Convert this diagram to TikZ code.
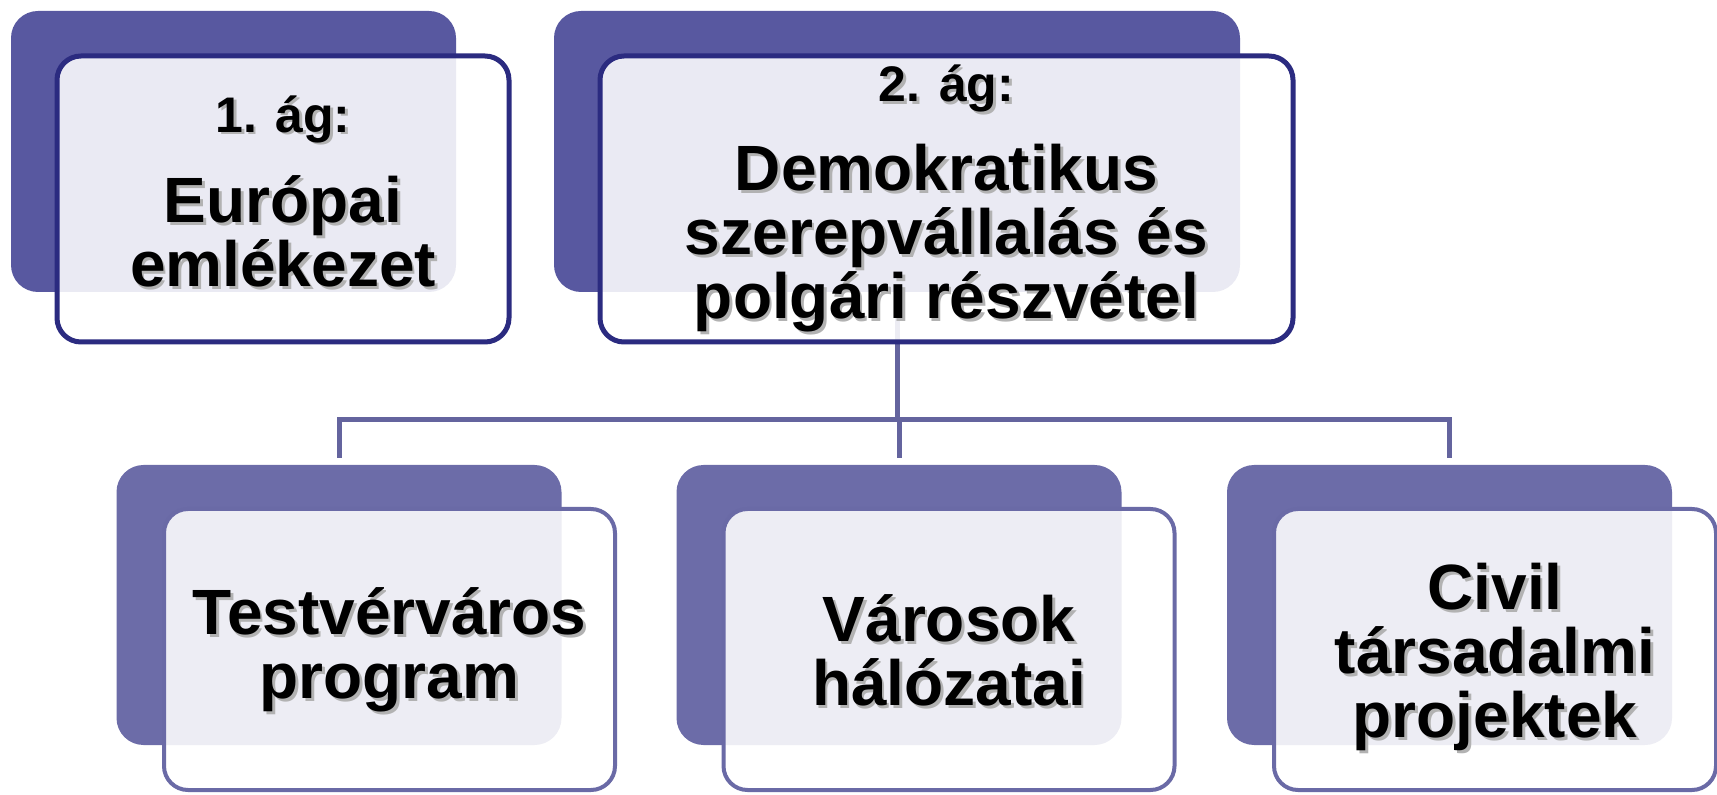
\documentclass[tikz,border=0pt]{standalone}
\usepackage{fontspec}
\setmainfont{Liberation Sans}
\definecolor{backtop}{HTML}{5858A0}
\definecolor{backbot}{HTML}{6C6CA8}
\definecolor{linetop}{HTML}{2B2B80}
\definecolor{linebot}{HTML}{6A6AA6}
\definecolor{linkcol}{HTML}{64649E}
\newcommand\shtxt[1]{\makebox[0pt][l]{\hspace{1.4pt}\raisebox{-1.4pt}{\color{black!30}#1}}{#1}}
\newcommand\subfont{\fontsize{25}{25}\selectfont}

\begin{document}
\begin{tikzpicture}[x=0.5pt,y=-0.5pt,
  back/.style={rectangle,rounded corners=13.5pt,inner sep=0pt,minimum width=222.5pt,minimum height=140.5pt},
  front/.style={rectangle,rounded corners=12pt,inner sep=0pt,fill=white,fill opacity=0.88,minimum width=226pt,minimum height=143pt},
  link/.style={draw=linkcol,line width=2.5pt},
  txt/.style={align=center,inner sep=0pt,font=\fontsize{32}{32}\selectfont\bfseries}]
\useasboundingbox (0,0) rectangle (1717,795);
% back panels
\node[back,fill=backtop] (b1) at (233.5,151.5) {};
\node[back,fill=backtop,minimum width=343pt] (b2) at (897,151.5) {};
\node[back,fill=backbot,minimum height=140pt] (bA) at (339,605) {};
\node[back,fill=backbot,minimum height=140pt] (bB) at (899,605) {};
\node[back,fill=backbot,minimum height=140pt] (bC) at (1449.5,605) {};
% tree lines
\coordinate (hub) at (897,420);
\draw[link] (b2.south) -- (hub);
\foreach \n in {bA,bB,bC}
  \draw[link,shorten >=3.5pt] (hub) -| (\n.north);
% front panels
\node[front,draw=linetop,line width=2.5pt] (f1) at (283,199) {};
\node[front,draw=linetop,line width=2.5pt,minimum width=346.5pt] (f2) at (946.5,199) {};
\node[front,draw=linebot,line width=2pt,minimum height=140.5pt,minimum width=225.5pt] (fA) at (389.5,649.5) {};
\node[front,draw=linebot,line width=2pt,minimum height=140.5pt,minimum width=225.5pt] (fB) at (949,649.5) {};
\node[front,draw=linebot,line width=2pt,minimum height=140.5pt,minimum width=221pt] (fC) at (1495,649.5) {};
% texts
\node[txt] (t1) at ([yshift=3.2pt]f1.center) {\shtxt{\subfont 1. ág:}\\[13.2pt]\shtxt{Európai}\\\shtxt{emlékezet}};
\node[txt] (t2) at ([yshift=-0.5pt]f2.center) {\shtxt{\subfont 2. ág:}\\[12.5pt]\shtxt{Demokratikus}\\\shtxt{szerepvállalás és}\\\shtxt{polgári részvétel}};
\node[txt] (tA) at ([yshift=-1pt]fA.center) {\shtxt{Testvérváros}\\\shtxt{program}};
\node[txt] (tB) at ([yshift=-1pt]fB.center) {\shtxt{Városok}\\\shtxt{hálózatai}};
\node[txt] (tC) at ([yshift=-4.3pt]fC.center) {\shtxt{Civil}\\\shtxt{társadalmi}\\\shtxt{projektek}};
\end{tikzpicture}
\end{document}
